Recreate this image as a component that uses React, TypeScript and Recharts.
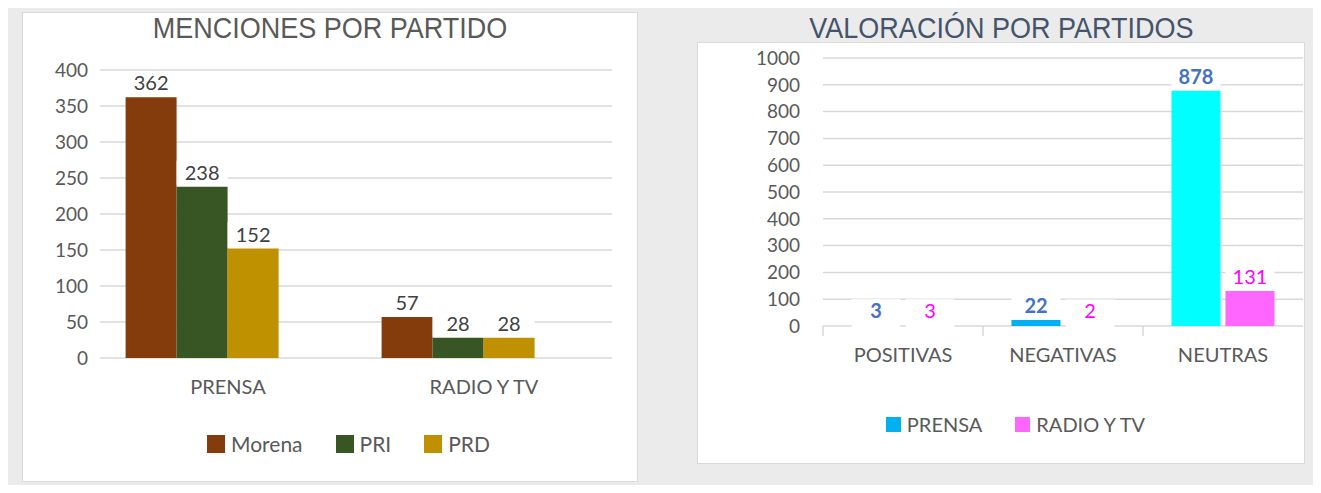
import React from 'react';
import { BarChart, Bar, XAxis, YAxis, CartesianGrid, LabelList, Cell } from 'recharts';

// MENCIONES POR PARTIDO
const medios = ['PRENSA', 'RADIO Y TV'];
const morena = [362, 57];
const pri = [238, 28];
const prd = [152, 28];
const mencionesTicks = [0, 50, 100, 150, 200, 250, 300, 350, 400];

// VALORACIÓN POR PARTIDOS
const valoraciones = ['POSITIVAS', 'NEGATIVAS', 'NEUTRAS'];
const prensa = [3, 22, 878];
const radioTv = [3, 2, 131];
const valoracionTicks = [0, 100, 200, 300, 400, 500, 600, 700, 800, 900, 1000];

const partidos = [
  { key: 'morena', name: 'Morena', color: '#843c0c' },
  { key: 'pri', name: 'PRI', color: '#375623' },
  { key: 'prd', name: 'PRD', color: '#bf9000' },
];
const prensaColors = ['#00b0f0', '#00b0f0', '#00ffff'];

const mencionesData = medios.map((m, i) => ({ medio: m, morena: morena[i], pri: pri[i], prd: prd[i] }));
const valoracionData = valoraciones.map((v, i) => ({ valoracion: v, prensa: prensa[i], radio: radioTv[i] }));

const FONT = 'Lato, "Noto Sans", sans-serif';
const TITLE_FONT = '"Liberation Sans", Arial, sans-serif';
const GRID = '#d9d9d9';
const TEXT = '#595959';

// data label on a white box, like the spreadsheet labels
const boxLabel = (color: string, bold = false) => (props: any) => {
  const { x, y, width, height, value } = props;
  const cover = height < 4 ? height + 3 : 0;
  return (
    <g>
      <rect x={x} y={y - 26} width={width} height={25 + cover} fill="#fff" />
      <text x={x + width / 2} y={y - 7} textAnchor="middle" fill={color} fontSize={20}
        fontWeight={bold ? 700 : 400} fontFamily={FONT}>
        {value}
      </text>
    </g>
  );
};

const BoundaryTick = (props: any) => {
  const { x, y, payload } = props;
  const half = payload && payload.offset ? payload.offset : 80;
  return (
    <g>
      <line x1={x - half} x2={x - half} y1={y} y2={y + 10} stroke={GRID} strokeWidth={1.5} />
      <text x={x} y={y + 36} textAnchor="middle" fill={TEXT} fontSize={20} fontFamily={FONT}>
        {payload.value}
      </text>
    </g>
  );
};

const legendItem = (name: string, color: string, size: number) => (
  <div key={name} style={{ display: 'flex', alignItems: 'center', gap: 6 }}>
    <span style={{ width: size, height: size, background: color, display: 'inline-block' }} />
    <span>{name}</span>
  </div>
);

const titleStyle = (color: string): React.CSSProperties => ({
  display: 'inline-block', fontFamily: TITLE_FONT, fontSize: 30, color, lineHeight: '32px',
  transform: 'scaleX(0.9)', whiteSpace: 'nowrap',
});

export default function App() {
  return (
    <div style={{ margin: -8, width: 1321, height: 493, background: '#ebebeb', position: 'relative', overflow: 'hidden' }}>
      {/* left panel */}
      <div style={{ position: 'absolute', left: 22, top: 12, width: 616, height: 470, background: '#fff', boxShadow: 'inset 0 0 0 1px #dadada' }}>
        <div style={{ position: 'absolute', top: 0, left: 0, width: 616, textAlign: 'center' }}>
          <span style={titleStyle(TEXT)}>MENCIONES POR PARTIDO</span>
        </div>
        <BarChart width={616} height={470} data={mencionesData} margin={{ top: 58, right: 26, left: 0, bottom: 74 }}
          barCategoryGap="10%" barGap={0}>
          <CartesianGrid vertical={false} stroke={GRID} strokeWidth={1.5} />
          <XAxis dataKey="medio" axisLine={false} tickLine={false} height={50} tickMargin={16}
            tick={{ fontSize: 20, fill: TEXT, fontFamily: FONT }} />
          <YAxis domain={[0, 400]} ticks={mencionesTicks} interval={0} width={78} axisLine={false} tickLine={false} tickMargin={6}
            tick={{ fontSize: 19, fill: TEXT, fontFamily: FONT }} />
          {partidos.map((p) => (
            <Bar key={p.key} dataKey={p.key} name={p.name} fill={p.color} isAnimationActive={false}>
              <LabelList dataKey={p.key} content={boxLabel('#404040')} />
            </Bar>
          ))}
          {/* empty fourth series slot, as in the original sheet */}
          <Bar dataKey="sinDatos" fill="none" isAnimationActive={false} />
        </BarChart>
        <div style={{ position: 'absolute', top: 419, left: 0, width: 616, paddingLeft: 37, boxSizing: 'border-box', display: 'flex', justifyContent: 'center', gap: 33, fontFamily: FONT, fontSize: 21, color: TEXT }}>
          {partidos.map((p) => legendItem(p.name, p.color, 18))}
        </div>
      </div>

      {/* right title */}
      <div style={{ position: 'absolute', top: 12, left: 697, width: 608, textAlign: 'center' }}>
        <span style={titleStyle('#44546a')}>VALORACIÓN POR PARTIDOS</span>
      </div>

      {/* right panel */}
      <div style={{ position: 'absolute', left: 697, top: 42, width: 608, height: 422, background: '#fff', boxShadow: 'inset 0 0 0 1px #dadada' }}>
        <BarChart width={608} height={422} data={valoracionData} margin={{ top: 16, right: 2, left: 0, bottom: 88 }}
          barCategoryGap="17.8%" barGap={5}>
          <CartesianGrid vertical={false} stroke={GRID} strokeWidth={1.5} />
          <XAxis dataKey="valoracion" axisLine={false} tickLine={false} height={50} tickSize={0} tickMargin={0}
            tick={<BoundaryTick />} interval={0} />
          <YAxis domain={[0, 1000]} ticks={valoracionTicks} interval={0} width={126} axisLine={false} tickLine={false} tickMargin={17}
            tick={{ fontSize: 19, fill: TEXT, fontFamily: FONT }} />
          <Bar dataKey="prensa" name="PRENSA" fill="#00b0f0" isAnimationActive={false}>
            {valoracionData.map((d, i) => (
              <Cell key={d.valoracion} fill={prensaColors[i]} />
            ))}
            <LabelList dataKey="prensa" content={boxLabel('#4472c4', true)} />
          </Bar>
          <Bar dataKey="radio" name="RADIO Y TV" fill="#ff66ff" isAnimationActive={false}>
            <LabelList dataKey="radio" content={boxLabel('#ff00ff')} />
          </Bar>
        </BarChart>
        <div style={{ position: 'absolute', top: 370, left: 0, width: 608, paddingLeft: 29, boxSizing: 'border-box', display: 'flex', justifyContent: 'center', gap: 33, fontFamily: FONT, fontSize: 20, color: TEXT }}>
          {legendItem('PRENSA', '#00b0f0', 15)}
          {legendItem('RADIO Y TV', '#ff66ff', 15)}
        </div>
      </div>
    </div>
  );
}
